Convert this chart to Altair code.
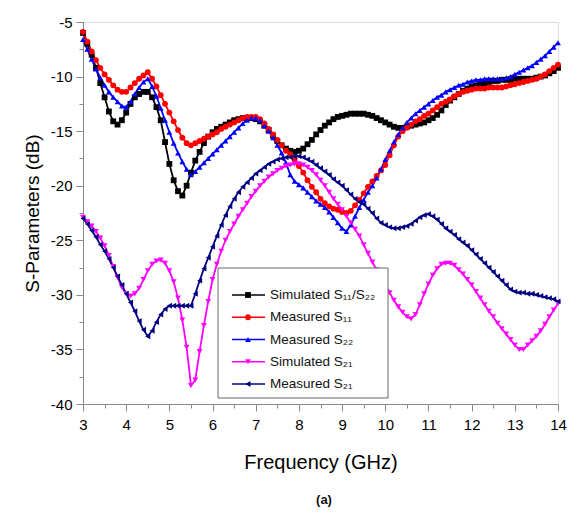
import altair as alt
import pandas as pd

FONT = "Liberation Sans"

series_names = ["Simulated S11/S22", "Measured S11", "Measured S22", "Simulated S21", "Measured S21"]
legend_labels = ["Simulated S\u2081\u2081/S\u2082\u2082", "Measured S\u2081\u2081", "Measured S\u2082\u2082",
                 "Simulated S\u2082\u2081", "Measured S\u2082\u2081"]
colors = ["#000000", "#ff0000", "#0000ff", "#ff00ff", "#000080"]
shapes = ["square", "circle", "triangle-up", "triangle-down", "triangle-left"]
marker_sizes = [34, 34, 55, 55, 55]

freq = [round(3 + 0.1 * i, 1) for i in range(111)]

sim_s11_s22 = [
    -6.0, -7.0, -8.0, -9.2, -10.6, -11.9, -13.2, -14.1, -14.4, -14.0,
    -13.3, -12.5, -11.9, -11.6, -11.4, -11.4, -11.9, -12.8, -14.0, -16.0,
    -18.0, -19.5, -20.5, -20.9, -20.0, -18.8, -17.7, -16.9, -16.1, -15.5,
    -15.1, -14.8, -14.6, -14.4, -14.2, -14.0, -13.9, -13.8, -13.8, -13.8,
    -13.9, -14.1, -14.5, -14.9, -15.4, -15.9, -16.3, -16.6, -16.8, -16.9,
    -16.8, -16.6, -16.2, -15.8, -15.3, -14.9, -14.5, -14.2, -13.9, -13.7,
    -13.6, -13.5, -13.4, -13.4, -13.4, -13.4, -13.5, -13.6, -13.8, -14.0,
    -14.2, -14.4, -14.6, -14.7, -14.7, -14.6, -14.5, -14.4, -14.3, -14.2,
    -14.0, -13.8, -13.5, -13.1, -12.6, -12.2, -11.9, -11.6, -11.3, -11.1,
    -10.9, -10.8, -10.7, -10.6, -10.5, -10.4, -10.4, -10.3, -10.3, -10.3,
    -10.2, -10.2, -10.2, -10.2, -10.2, -10.1, -10.0, -9.9, -9.7, -9.5,
    -9.2,
]

meas_s11 = [
    -5.9, -6.8, -7.7, -8.5, -9.2, -9.8, -10.3, -10.8, -11.2, -11.4,
    -11.4, -11.0, -10.6, -10.2, -9.9, -9.6, -10.2, -10.9, -11.7, -12.5,
    -13.3, -14.1, -14.9, -15.6, -16.1, -16.3, -16.1, -15.9, -15.7, -15.5,
    -15.3, -15.1, -14.8, -14.6, -14.4, -14.2, -14.0, -13.8, -13.7, -13.7,
    -13.7, -13.9, -14.3, -14.8, -15.3, -15.8, -16.3, -16.8, -17.1, -17.6,
    -18.2, -18.8, -19.5, -20.1, -20.6, -21.2, -21.6, -21.9, -22.1, -22.2,
    -22.4, -22.5, -22.3, -21.8, -21.3, -20.7, -20.1, -19.6, -19.1, -18.6,
    -18.1, -17.2, -16.3, -15.5, -15.0, -14.7, -14.4, -14.1, -13.9, -13.6,
    -13.4, -13.1, -12.8, -12.5, -12.3, -12.1, -11.8, -11.6, -11.4, -11.3,
    -11.2, -11.1, -11.1, -11.1, -11.0, -11.0, -11.0, -11.0, -10.9, -10.8,
    -10.7, -10.6, -10.5, -10.4, -10.3, -10.2, -10.0, -9.8, -9.5, -9.2,
    -8.9,
]

meas_s22 = [
    -6.6, -7.5, -8.4, -9.3, -10.1, -10.8, -11.4, -11.9, -12.3, -12.7,
    -12.8, -12.3, -11.6, -11.0, -10.5, -10.2, -10.9, -11.8, -12.9, -14.0,
    -15.1, -16.1, -17.0, -17.8, -18.5, -19.0, -18.7, -18.3, -17.9, -17.5,
    -17.1, -16.7, -16.3, -15.9, -15.5, -15.1, -14.7, -14.3, -14.0, -13.8,
    -13.8, -14.0, -14.5, -15.0, -15.6, -16.3, -17.0, -17.9, -19.0, -19.6,
    -19.9, -20.2, -20.6, -21.0, -21.4, -21.7, -22.0, -22.4, -22.9, -23.4,
    -23.9, -24.2, -23.6, -22.8, -22.0, -21.3, -20.6, -20.0, -19.3, -18.5,
    -17.6, -16.8, -16.0, -15.3, -14.7, -14.2, -13.8, -13.4, -13.1, -12.8,
    -12.5, -12.2, -11.9, -11.7, -11.4, -11.2, -11.0, -10.8, -10.7, -10.5,
    -10.4, -10.3, -10.3, -10.2, -10.2, -10.2, -10.2, -10.2, -10.1, -10.0,
    -9.8, -9.6, -9.4, -9.2, -9.0, -8.7, -8.4, -8.1, -7.7, -7.3,
    -6.9,
]

sim_s21 = [
    -22.9, -23.3, -23.7, -24.2, -24.8, -25.5, -26.4, -27.4, -28.4, -29.3,
    -29.9, -30.1, -29.9, -29.4, -28.6, -27.8, -27.2, -26.9, -26.8, -27.1,
    -27.8, -28.8, -30.3, -32.3, -34.8, -38.3, -37.8, -35.2, -32.8, -30.6,
    -28.6, -27.2, -26.0, -25.0, -24.2, -23.5, -22.8, -22.2, -21.6, -21.0,
    -20.5, -20.0, -19.6, -19.2, -18.9, -18.6, -18.4, -18.2, -18.1, -18.0,
    -18.0, -18.1, -18.3, -18.6, -19.0, -19.5, -20.0, -20.6, -21.2, -21.7,
    -22.2, -22.8, -23.4, -24.0, -24.6, -25.4, -26.2, -27.0, -27.7, -28.4,
    -29.1, -29.8, -30.5, -31.1, -31.6, -32.0, -32.2, -31.8, -30.9, -29.9,
    -29.0, -28.2, -27.6, -27.2, -27.1, -27.1, -27.3, -27.7, -28.1, -28.6,
    -29.1, -29.7, -30.3, -30.9, -31.5, -32.0, -32.6, -33.1, -33.6, -34.1,
    -34.6, -35.0, -35.0, -34.6, -34.2, -33.8, -33.3, -32.7, -32.0, -31.4,
    -30.8,
]

meas_s21 = [
    -23.0, -23.5, -24.1, -24.7, -25.4, -26.0, -26.7, -27.5, -28.3, -29.1,
    -29.9, -30.7, -31.5, -32.4, -33.2, -33.8, -33.3, -32.5, -31.8, -31.3,
    -31.0, -31.0, -31.0, -31.0, -31.0, -31.0, -29.9, -28.7, -27.6, -26.6,
    -25.6, -24.6, -23.6, -22.7, -21.9, -21.2, -20.6, -20.1, -19.7, -19.3,
    -18.9, -18.6, -18.3, -18.0, -17.8, -17.6, -17.5, -17.4, -17.4, -17.3,
    -17.3, -17.4, -17.6, -17.8, -18.1, -18.4, -18.7, -19.0, -19.4, -19.7,
    -20.0, -20.4, -20.8, -21.2, -21.5, -21.7, -22.1, -22.5, -23.0, -23.4,
    -23.6, -23.8, -23.9, -23.9, -23.8, -23.7, -23.5, -23.2, -22.9, -22.7,
    -22.6, -22.8, -23.1, -23.5, -23.9, -24.2, -24.5, -24.9, -25.2, -25.5,
    -25.9, -26.3, -26.7, -27.1, -27.5, -27.9, -28.3, -28.7, -29.1, -29.5,
    -29.7, -29.8, -29.8, -29.9, -29.9, -30.0, -30.1, -30.2, -30.3, -30.4,
    -30.6,
]

x_ticks = [3 + 0.5 * i for i in range(23)]
y_ticks = [-40 + 2.5 * i for i in range(15)]

all_series = [sim_s11_s22, meas_s11, meas_s22, sim_s21, meas_s21]
rows = []
for name, vals in zip(series_names, all_series):
    for f, v in zip(freq, vals):
        rows.append({"freq": f, "value": v, "series": name})
df = pd.DataFrame(rows)

color_scale = alt.Scale(domain=series_names, range=colors)
shape_scale = alt.Scale(domain=series_names, range=shapes)
size_scale = alt.Scale(domain=series_names, range=marker_sizes)

x_enc = alt.X(
    "freq:Q",
    scale=alt.Scale(domain=[3, 14], nice=False, zero=False),
    axis=alt.Axis(
        title="Frequency (GHz)", values=x_ticks,
        labelExpr="datum.value % 1 === 0 ? '' + datum.value : ''",
        tickSize={"condition": {"test": "datum.value % 1 === 0", "value": 7}, "value": 4},
        labelFlush=False, labelOverlap=False, labelFontSize=15, labelPadding=6,
        titleFontSize=20, titleFontWeight="normal", titlePadding=20, grid=False,
    ),
)
y_enc = alt.Y(
    "value:Q",
    scale=alt.Scale(domain=[-40, -5], nice=False, zero=False),
    axis=alt.Axis(
        title="S-Parameters (dB)", values=y_ticks,
        labelExpr="datum.value % 5 === 0 ? '' + datum.value : ''",
        tickSize={"condition": {"test": "datum.value % 5 === 0", "value": 7}, "value": 4},
        labelOverlap=False, labelFontSize=15, labelPadding=4,
        titleFontSize=19, titleFontWeight="normal", titlePadding=8, grid=False,
    ),
)

base = alt.Chart(df)
lines = base.mark_line(strokeWidth=1.8).encode(
    x=x_enc, y=y_enc,
    color=alt.Color("series:N", scale=color_scale, legend=None),
    detail="series:N",
)
points = base.mark_point(filled=True, opacity=1).encode(
    x=x_enc, y=y_enc,
    color=alt.Color("series:N", scale=color_scale, legend=None),
    shape=alt.Shape("series:N", scale=shape_scale, legend=None),
    size=alt.Size("series:N", scale=size_scale, legend=None),
)
main = alt.layer(lines, points)

# custom legend
leg_df = pd.DataFrame({"series": series_names, "label": legend_labels, "idx": list(range(5))})
ly = alt.Y("idx:Q", scale=alt.Scale(domain=[0, 4], range=[273, 362]), axis=None)
leg_box = alt.Chart(pd.DataFrame({"k": [0]})).mark_rect(
    fill="white", stroke="#666666", strokeWidth=1
).encode(x=alt.value(135), x2=alt.value(305), y=alt.value(246), y2=alt.value(376))
leg_base = alt.Chart(leg_df)
leg_rule = leg_base.mark_rule(strokeWidth=1.6).encode(
    x=alt.value(149), x2=alt.value(182), y=ly,
    color=alt.Color("series:N", scale=color_scale, legend=None),
)
leg_pt = leg_base.mark_point(filled=True, opacity=1).encode(
    x=alt.value(165), y=ly,
    color=alt.Color("series:N", scale=color_scale, legend=None),
    shape=alt.Shape("series:N", scale=shape_scale, legend=None),
    size=alt.Size("series:N", scale=size_scale, legend=None),
)
leg_text = leg_base.mark_text(align="left", baseline="middle", fontSize=13.5, font=FONT, color="#111").encode(
    x=alt.value(187), y=ly, text="label:N"
)
legend = alt.layer(leg_rule, leg_pt, leg_text)

caption = alt.Chart(pd.DataFrame({"k": [0]})).mark_text(
    text="(a)", fontSize=13, fontWeight="bold", font=FONT, color="#111", baseline="middle"
).encode(x=alt.value(241), y=alt.value(478))

chart = alt.layer(
    main, leg_box, legend, caption
).resolve_scale(y="independent").properties(
    width=475, height=382,
    autosize=alt.AutoSizeParams(type="none"),
    padding={"left": 75, "top": 14, "right": 10, "bottom": 103},
).configure_view(stroke=None).configure_axis(
    domainColor="#000", domainWidth=2, tickColor="#000", tickWidth=1.5,
    labelColor="#222", titleColor="#222", labelFont=FONT, titleFont=FONT,
).configure(background="white")

chart.save("out.html", embed_options={"renderer": "svg", "actions": False})
